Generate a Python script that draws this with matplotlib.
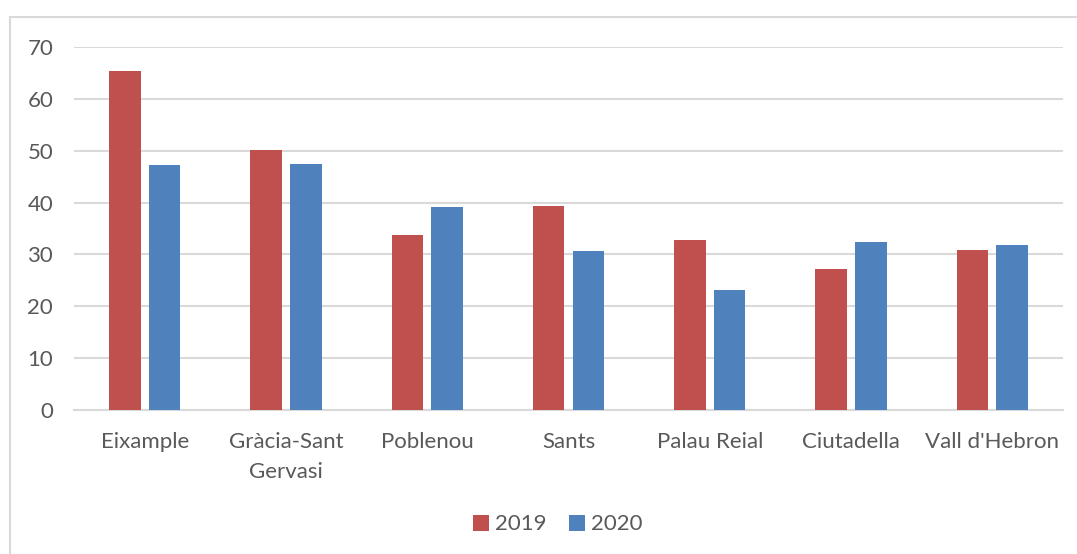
import matplotlib.pyplot as plt
import numpy as np
from matplotlib.patches import Rectangle

districts = ['Eixample', 'Gràcia-Sant\nGervasi', 'Poblenou', 'Sants',
             'Palau Reial', 'Ciutadella', "Vall d'Hebron"]
vals_2019 = [65.3, 50.1, 33.8, 39.3, 32.8, 27.2, 30.8]
vals_2020 = [47.2, 47.4, 39.1, 30.7, 23.1, 32.4, 31.8]
years = ['2019', '2020']
yticks = [0, 10, 20, 30, 40, 50, 60, 70]

RED = '#c0504d'
BLUE = '#4f81bd'
TEXT = '#595959'
GRID = '#d9d9d9'

plt.rcParams['font.family'] = ['Lato', 'DejaVu Sans']

fig = plt.figure(figsize=(10.77, 5.54), dpi=100)
ax = fig.add_axes([74 / 1077, 1 - 410.3 / 554, (1063 - 74) / 1077, (410.3 - 46.7) / 554])

# chart frame (top and left edges visible)
fig.patches.append(Rectangle((10 / 1077, -0.05), 1.2, 1 - 17 / 554 + 0.05,
                             transform=fig.transFigure, fill=False,
                             edgecolor=GRID, linewidth=1.5, zorder=0))

x = np.arange(len(districts))
w = 0.224
gap = 0.057
ax.bar(x - (w + gap) / 2, vals_2019, w, color=RED, label=years[0], zorder=3)
ax.bar(x + (w + gap) / 2, vals_2020, w, color=BLUE, label=years[1], zorder=3)

ax.set_xlim(-0.5, len(districts) - 0.5)
ax.set_ylim(0, 70)
ax.set_yticks(yticks)
ax.set_xticks(x)
ax.set_xticklabels(districts, linespacing=1.65)
ax.yaxis.grid(True, color=GRID, linewidth=1.5, zorder=0)
ax.set_axisbelow(True)
for s in ['top', 'right', 'left']:
    ax.spines[s].set_visible(False)
ax.spines['bottom'].set_color(GRID)
ax.spines['bottom'].set_linewidth(1.5)
ax.tick_params(axis='both', length=0, labelsize=16, colors=TEXT)
ax.tick_params(axis='y', pad=15)
ax.tick_params(axis='x', pad=15.5)

fig.legend(loc='center', bbox_to_anchor=(0.518, 1 - 524.5 / 554), ncol=2,
           frameon=False, fontsize=16, labelcolor=TEXT, handlelength=0.7,
           handleheight=0.7, handletextpad=0.3, columnspacing=1.0)

fig.savefig('out.png', dpi=100)
